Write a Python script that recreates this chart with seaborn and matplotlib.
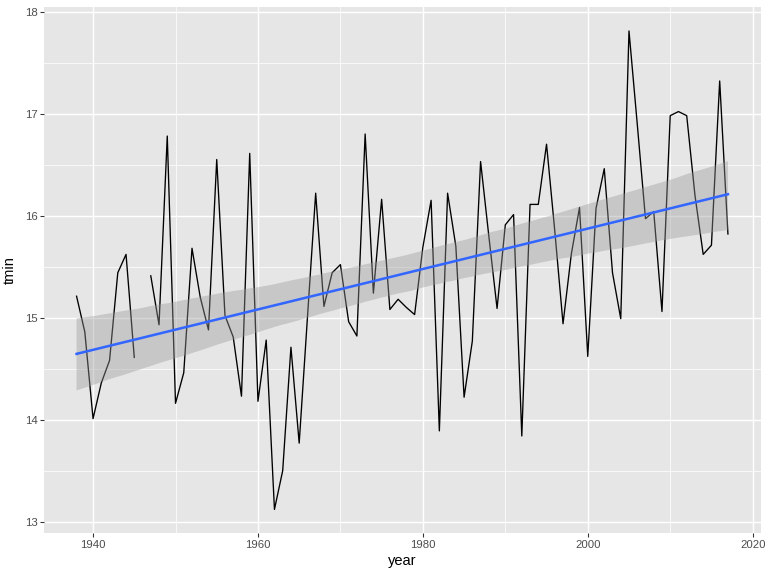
import numpy as np
import pandas as pd
import matplotlib
matplotlib.use("Agg")
import matplotlib.pyplot as plt
import seaborn as sns
from matplotlib.ticker import MultipleLocator

# yearly minimum temperature, 1946 missing
years = list(range(1938, 2018))
tmin = [
    15.21, 14.86, 14.01, 14.36, 14.58, 15.44, 15.62, 14.61, np.nan, 15.41,
    14.93, 16.78, 14.16, 14.46, 15.68, 15.20, 14.88, 16.55, 15.02, 14.81,
    14.23, 16.61, 14.18, 14.78, 13.12, 13.50, 14.71, 13.77, 15.00, 16.22,
    15.11, 15.44, 15.52, 14.96, 14.82, 16.80, 15.24, 16.16, 15.08, 15.18,
    15.10, 15.03, 15.69, 16.15, 13.89, 16.22, 15.70, 14.22, 14.77, 16.53,
    15.80, 15.09, 15.91, 16.01, 13.84, 16.11, 16.11, 16.70, 15.85, 14.94,
    15.62, 16.08, 14.62, 16.07, 16.46, 15.44, 14.99, 17.81, 16.90, 15.97,
    16.04, 15.06, 16.98, 17.02, 16.98, 16.20, 15.62, 15.71, 17.32, 15.82,
]

df = pd.DataFrame({"year": years, "tmin": tmin})
# split at the gap so the line breaks there
df["segment"] = df["tmin"].isna().cumsum()
line_df = df.dropna()

plt.rcParams["font.family"] = ["Liberation Sans", "DejaVu Sans"]

fig, ax = plt.subplots(figsize=(8, 6), dpi=96)
fig.subplots_adjust(left=44/768, right=760.5/768, top=1-7/576, bottom=1-533.3/576)

sns.lineplot(data=line_df, x="year", y="tmin", units="segment", estimator=None,
             color="black", lw=1.0, ax=ax)
sns.regplot(data=df, x="year", y="tmin", scatter=False, ci=95, seed=0,
            color="#3366FF", line_kws={"lw": 1.9, "zorder": 4}, ax=ax)

# ggplot style grey band
for coll in ax.collections:
    coll.set_alpha(None)
    coll.set_facecolor((0.6, 0.6, 0.6, 0.4))
    coll.set_edgecolor("none")
    coll.set_zorder(3)

ax.set_facecolor("#E6E6E6")
for s in ax.spines.values():
    s.set_visible(False)
ax.set_xlim(1934.05, 2020.95)
ax.set_ylim(12.886, 18.045)
ax.xaxis.set_major_locator(MultipleLocator(20))
ax.xaxis.set_minor_locator(MultipleLocator(10))
ax.yaxis.set_major_locator(MultipleLocator(1))
ax.yaxis.set_minor_locator(MultipleLocator(0.5))
ax.grid(which="major", color="white", lw=1.1)
ax.grid(which="minor", color="white", lw=0.55)
ax.set_axisbelow(True)
ax.tick_params(which="major", length=2.75, width=0.8, color="#333333",
               labelsize=8.5, labelcolor="#4D4D4D", pad=2.2)
ax.tick_params(which="minor", length=0)
ax.set_xlabel("year", fontsize=11, labelpad=3)
ax.set_ylabel("tmin", fontsize=11)
ax.yaxis.set_label_coords(-0.038, 0.5)

fig.savefig("out.png", dpi=96, facecolor="white")
